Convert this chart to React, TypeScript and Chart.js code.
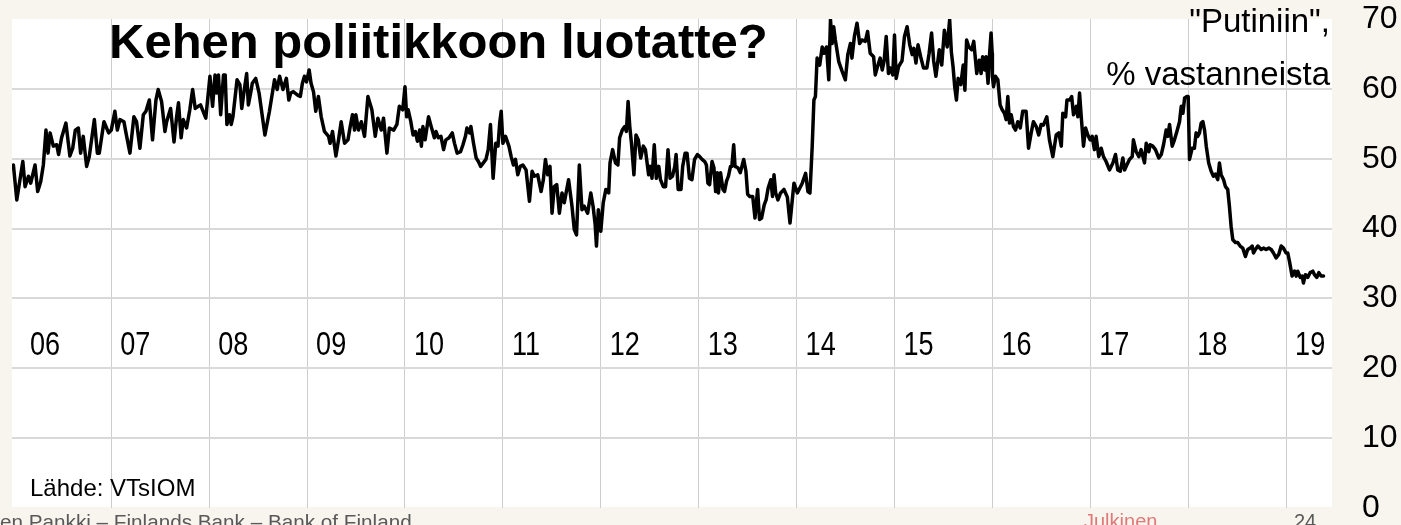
import React, { useEffect, useRef } from 'react';
import { Chart, registerables } from 'chart.js';

Chart.register(...registerables);

// Survey years and their axis labels
const years = [2006, 2007, 2008, 2009, 2010, 2011, 2012, 2013, 2014, 2015, 2016, 2017, 2018, 2019];
const yearLabels = ['06', '07', '08', '09', '10', '11', '12', '13', '14', '15', '16', '17', '18', '19'];
const gridYears = [2007, 2008, 2009, 2010, 2011, 2012, 2013, 2014, 2015, 2016, 2017, 2018, 2019];

// [week of year, % trusting Putin]
const s2006: [number, number][] = [[0,49.1],[1.8,44.1],[5,49.6],[6.2,46],[8,47.5],[9.2,46.5],[11.5,49.1],[12.9,45.3],[14.5,46.7],[15.9,49.1],[17.3,54.1],[18.4,50.8],[19.5,53.7],[21.2,51.8],[23,52],[24,50.6],[25.6,53],[27.9,55.1],[30,50.4],[31.5,51.5],[32.9,54.1],[34.5,54.4],[35.7,50.8],[37.1,53.2],[38.9,48.9],[40.3,50.3],[43,55.6],[44.6,50.8],[45.6,50.8],[48.1,55.3],[50.6,53.7]];
const s2007: [number, number][] = [[0,54.1],[1.9,56.8],[3.2,54.1],[4.6,55.6],[6.7,55.3],[7.8,53.7],[9.9,50.8],[12,56],[13.4,55.3],[15.2,51.5],[17,56.3],[18.4,56.8],[20.2,58.4],[21.9,52.7],[23.7,58.4],[24.9,59.9],[26.7,58.2],[28.5,53.9],[29.4,55.3],[31.5,57.2],[33.3,52.4],[34.7,56],[35.7,58],[37.1,53],[38.2,55.6],[40,54.4],[41.7,57],[43.2,59.9],[44.6,57.2],[46.2,57.5],[47.4,57.7],[50.2,55.8]];
const s2008: [number, number][] = [[0.4,61.8],[1.8,57.5],[3.1,62],[4,59.4],[4.9,62],[6.1,56.3],[7.6,62],[8.5,62],[9.4,54.9],[10.8,56.3],[11.7,54.9],[12.6,56],[14.8,61.3],[16.3,60.6],[17.3,57.2],[18.4,59.4],[19.9,62.2],[20.8,57.7],[22,59.4],[22.9,60.8],[24.7,61.5],[26.5,59.4],[29.6,53.4],[32,56.8],[34.7,61.3],[36.1,59.9],[37.4,61.8],[39.2,59.9],[41,61.5],[42.3,58.4],[43.3,59.4],[44.6,59.6],[47,59.1],[48.4,58.9],[49.5,60.8],[50.6,61.8],[51.7,61]];
const s2009: [number, number][] = [[1.1,62.7],[2.1,60.8],[3.4,59.6],[4.6,56.8],[6,58.9],[7.5,56],[9.2,53.9],[11.4,53.2],[12.2,52.2],[13.5,53.9],[15.3,50.4],[16.7,52.7],[18.1,55.3],[19.9,52.2],[21.7,52.7],[22.9,54.6],[24.1,56.3],[25.2,54.1],[25.9,56.3],[27.3,54.1],[28.8,55.3],[30.5,53.2],[32.3,58.9],[34.4,57],[36.2,53.2],[37.6,55.8],[39.4,54.1],[40.6,55.8],[42.4,50.8],[43.7,54.4],[46,54.1],[47.7,54.9],[49,57.5],[50.8,57]];
const s2010: [number, number][] = [[0,60.3],[0.9,56],[1.7,57],[3.1,55.3],[4.3,53.4],[5.5,53.9],[6.6,52.5],[7.8,54.1],[8.7,51.8],[9.5,54.6],[10.7,52.7],[12.5,56],[13.9,54.6],[15.6,53],[16.5,53.9],[17.7,53],[19.1,53.2],[20.5,51.3],[21.7,52.7],[23.4,53],[25.1,53.7],[26.3,52.2],[27.7,50.8],[29.5,51],[30.8,52],[32.1,53.2],[32.9,54.4],[34.3,53.7],[35,54.6],[36.4,52.2],[37.8,50.1],[39,49.6],[40.2,48.9],[41.6,49.4],[43,49.9],[44.2,51.3],[45.4,54.9],[46.8,47.2],[48.2,52.2],[49.4,51.8],[50.3,55.1],[51.1,56.8]];
const s2011: [number, number][] = [[0,52.2],[1.4,53.2],[3.2,51.8],[4.4,50.3],[5.6,49.1],[6.7,49.9],[7.9,47.7],[9.2,48.9],[10.6,49.1],[12.3,48.4],[14.1,43.9],[15.5,48.2],[16.7,47.5],[18.5,47.7],[20.3,45.3],[21.5,47],[22.6,49.9],[23.8,47.7],[25,48.9],[26.1,42.2],[27.3,46],[28.6,46.3],[30,42.2],[31.4,45.1],[32.6,43.7],[33.5,45],[34.9,47],[36.7,43.2],[37.9,39.9],[39.1,39.1],[40.6,49.1],[42,42.7],[43.2,43.2],[45,42.2],[46.7,45.1],[47.9,43.2],[49,40.6],[49.7,37.5],[50.7,42.7]];
const s2012: [number, number][] = [[0,39.6],[1.3,43.7],[2.7,45.6],[4.2,45.1],[4.9,49.4],[6.3,51.3],[7.8,49.4],[9.1,49.1],[10,53],[11.4,54.1],[12.7,54.6],[13.6,53.9],[14.5,58.2],[15.4,54.6],[16.3,52.2],[17.6,47.7],[18.7,53.4],[19.9,52.7],[21.2,50.1],[22.6,51.8],[23.7,51.3],[25.4,47.7],[26.3,48.9],[27.2,47.2],[28.4,52],[29.5,47.2],[30.8,48.9],[31.7,47],[33.2,46],[34.4,46],[35.7,51.3],[36.8,47.2],[38.1,47.5],[39.3,48.9],[40,50.6],[41.1,45.6],[42.6,45.6],[43.5,48.9],[44.8,50.8],[45.8,50.8],[47.1,47.2],[48.4,47],[49.8,49.9],[51.3,50.6]];
const s2013: [number, number][] = [[0.5,50.3],[1.8,49.9],[3.2,49.6],[4.1,49.1],[4.9,46.5],[5.8,46.3],[7.1,49.6],[8.1,48.7],[9,45.3],[9.9,48],[10.5,45.1],[11.6,48],[12.9,45.6],[13.7,45.3],[14.8,46.8],[15.8,47.5],[16.9,48.9],[17.6,48.9],[18.6,52],[19.3,48.9],[20.8,48.7],[22.1,48],[23.9,49.9],[25.1,48.2],[26,44.9],[27.1,44.6],[28.7,44.6],[29.9,41.5],[31.3,45.6],[32.3,41.3],[33.4,41.5],[34.8,43.4],[35.8,44.1],[36.9,45.8],[38.3,47],[39.2,44.6],[40,47.7],[40.9,45.1],[42.1,44.1],[43.5,45.1],[45.3,45.6],[47.1,44.5],[48.5,40.8],[50.6,46.5]];
const s2014: [number, number][] = [[0.4,45.1],[3,46.5],[4.8,47.9],[6,45.3],[7.1,45.1],[8.3,51.8],[9.2,58.4],[10,58.9],[10.9,64.4],[12.3,63.4],[13.6,66],[14.5,65.1],[15.9,66],[17.1,61.3],[18,69.9],[18.9,66.5],[19.7,68.9],[20.6,67],[22.4,63.9],[24.2,62.5],[25.9,61.3],[27.2,64.9],[28.6,66.5],[29.4,64.4],[30.7,67.5],[32.1,69.4],[33.5,66.5],[34.7,67],[36.5,66.8],[37.7,68.2],[39.1,65.1],[40.9,64.6],[41.8,62],[43,63.2],[44.4,64.4],[45.5,62.7],[46.5,64],[47.6,67.5],[48.8,62.2],[49.7,63],[51.1,62]];
const s2015: [number, number][] = [[0,67.7],[0.9,61.5],[2.2,63.2],[4,64],[5.3,67.5],[6.7,68.9],[8.1,66.3],[9.4,64.9],[10.3,65.8],[11.4,63.7],[12.5,66.3],[13.9,64.6],[15.4,63],[17.2,63],[18.4,65.1],[19.7,68],[20.8,64],[22,61.8],[23.8,65.6],[25.1,63.4],[26.5,68.4],[28,66],[29.3,69.9],[30.2,65.3],[31.1,63.2],[32,60.3],[32.9,58.4],[33.8,61.5],[35.2,60.6],[36.5,63.4],[37.4,59.8],[38.3,67],[39.5,66],[41,65.6],[42.1,66.8],[43.7,62.2],[45,64.1],[46,62.2],[46.8,64.6],[47.9,62.7],[48.6,64.6],[49.7,60.8],[50.4,64.6],[51.3,68],[51.9,65.1]];
const s2016: [number, number][] = [[0,61.8],[0.6,60.3],[1.6,61.8],[2.9,61.3],[4.1,57.7],[5.2,57],[6.4,56.5],[7.3,55.6],[8.2,58.9],[9.1,55.1],[10,56.3],[11.2,54.6],[12.3,54.1],[13.5,55.3],[14.8,54.4],[16.1,56.8],[17.9,56.8],[19.2,51.5],[20.6,53.7],[21.8,55.3],[23.3,54.6],[24.6,53.4],[25.9,54.9],[27.1,54.8],[28.9,56],[30.3,52.7],[32.1,50.3],[33.9,53.4],[35.3,53.7],[36.6,51.8],[37.4,56.5],[38.9,56],[39.6,58.4],[41,58.4],[42.1,58.9],[43.1,56.3],[44.6,57.5],[45.4,56],[46.3,59.4],[47.2,56],[48.4,51.8],[49.5,54.4],[50.7,53.4],[51.9,52.7]];
const s2017: [number, number][] = [[1,53.2],[2.2,51.3],[3.1,53.2],[4.5,50.3],[5.8,51.5],[7,50.3],[8.4,49.6],[10.2,48.4],[12,49.4],[13.4,50.6],[14.6,48.4],[15.9,48.2],[17.3,50.1],[18.2,48.4],[19.4,49.1],[20.8,49.9],[22.3,50.3],[22.9,52.7],[24.4,51],[25.8,50.3],[27,51.3],[28.8,49.4],[29.7,52.2],[31.1,51],[31.8,52],[33.2,51.8],[34.6,51.3],[36.4,50.1],[37.7,50.6],[38.9,52],[40.3,54.1],[41.2,53.2],[42.1,54.9],[43.5,51.8],[44.7,52.7],[46,53.9],[47.4,55.3],[48.3,57.5],[49.2,56.5],[50.1,58.7],[51.3,58.9]];
const s2018: [number, number][] = [[0,58.9],[0.7,49.9],[2.1,51.5],[3.3,51.5],[4.2,53.7],[5.1,53.2],[6,53.7],[6.9,55.1],[7.8,55.3],[8.7,54.1],[9.6,51.8],[10.9,49.4],[12.2,48.2],[13.4,47.5],[14.5,47.8],[15.7,47],[16.6,49.4],[17.5,47.7],[18.8,47],[19.8,46],[21,45.6],[21.9,43.2],[22.8,40.3],[23.7,38.4],[25.1,38],[26.3,38],[27.6,37.5],[29,37.2],[30.4,36],[31.6,37],[32.9,37.2],[34,37.5],[34.7,36.5],[35.7,37],[37,37.5],[38.8,37],[40,37.2],[41.4,37],[42.8,37.2],[44.1,37],[45.3,36.5],[46.7,35.8],[48.1,36.3],[49.4,37.5],[50.6,37.2]];
const s2019: [number, number][] = [[0,36.5],[0.9,36.5],[1.8,35.3],[3.2,33.2],[4.5,33.9],[5.4,33.2],[6.2,33.9],[7.5,33],[8.6,33.2],[9.2,32.2],[10.3,33.4],[11.5,33],[12.8,33.7],[14.2,33.9],[15.1,33.4],[16.3,33],[17.4,33.7],[18.6,33.2],[19.9,33.2]];

const series = [s2006, s2007, s2008, s2009, s2010, s2011, s2012, s2013, s2014, s2015, s2016, s2017, s2018, s2019];

const title = 'Kehen poliitikkoon luotatte?';
const unitLines = ['"Putiniin",', '% vastanneista'];
const source = 'Lähde: VTsIOM';
const footer = 'Suomen Pankki – Finlands Bank – Bank of Finland';
const footerCut = 'Suom';
const classification = 'Julkinen';
const pageNo = '24';

const SANS = "'Liberation Sans', Arial, sans-serif";

export default function App() {
  const ref = useRef<HTMLCanvasElement>(null);

  useEffect(() => {
    const canvas = ref.current;
    if (!canvas) return;
    const points = years.flatMap((yr, i) => series[i].map(([w, v]) => ({ x: yr + w / 52, y: v })));

    const deco = {
      id: 'deco',
      beforeDraw(c: any) {
        const { ctx, chartArea: a } = c;
        ctx.save();
        ctx.fillStyle = '#ffffff';
        ctx.fillRect(a.left, a.top, a.right - a.left, a.bottom - a.top - 1);
        ctx.restore();
      },
      afterDraw(c: any) {
        const { ctx, chartArea: a, scales } = c;
        const xs = scales.x;
        const ys = scales.y;
        ctx.save();
        ctx.fillStyle = '#000';
        ctx.textBaseline = 'alphabetic';

        // title
        ctx.font = `bold 49px ${SANS}`;
        ctx.textAlign = 'left';
        ctx.fillText(title, 109, 58);

        // unit note
        ctx.font = `33px ${SANS}`;
        ctx.textAlign = 'right';
        ctx.fillText(unitLines[0], a.right - 2, 32);
        ctx.fillText(unitLines[1], a.right - 2, 85);

        // year labels inside plot
        ctx.font = `33px monospace`;
        const wMono = ctx.measureText('00').width;
        ctx.font = `33px 'Liberation Sans Narrow', monospace`;
        const wNarrow = ctx.measureText('00').width;
        const hasNarrow = Math.abs(wMono - wNarrow) > 0.5;
        const labelY = ys.getPixelForValue(21.9);
        ctx.textAlign = 'left';
        years.forEach((yr, i) => {
          let x = xs.getPixelForValue(yr) + 9;
          if (i === 0) x = Math.max(x, a.left + 18);
          ctx.save();
          ctx.translate(x, labelY);
          if (hasNarrow) {
            ctx.font = `33px 'Liberation Sans Narrow', ${SANS}`;
          } else {
            ctx.font = `33px ${SANS}`;
            ctx.scale(0.82, 1);
          }
          ctx.fillText(yearLabels[i], 0, 0);
          ctx.restore();
        });

        // source
        ctx.font = `24px ${SANS}`;
        ctx.textAlign = 'left';
        ctx.fillText(source, 30, 496);

        // footer
        ctx.font = `20.7px ${SANS}`;
        ctx.fillStyle = '#595959';
        const cut = ctx.measureText(footerCut).width;
        ctx.fillText(footer, -cut, 529);
        ctx.font = `20px ${SANS}`;
        ctx.fillStyle = '#e07a7a';
        ctx.fillText(classification, 1084, 528);
        ctx.fillStyle = '#595959';
        ctx.fillText(pageNo, 1294, 528);
        ctx.restore();
      },
    };

    const chart = new Chart(canvas, {
      type: 'line',
      data: {
        datasets: [
          {
            data: points,
            borderColor: '#000000',
            borderWidth: 3.5,
            pointRadius: 0,
            tension: 0,
            borderJoinStyle: 'round',
            borderCapStyle: 'round',
            fill: false,
          },
        ],
      },
      options: {
        animation: false,
        responsive: false,
        maintainAspectRatio: false,
        layout: { padding: { left: 12, top: 19, right: 0, bottom: 17 } },
        plugins: { legend: { display: false }, tooltip: { enabled: false } },
        scales: {
          x: {
            type: 'linear',
            min: 2005.9857,
            max: 2019.469,
            afterBuildTicks: (s: any) => {
              s.ticks = gridYears.map((v) => ({ value: v }));
            },
            afterFit: (s: any) => {
              s.height = 0;
              s.paddingLeft = 0;
              s.paddingRight = 0;
              s.paddingTop = 0;
              s.paddingBottom = 0;
            },
            ticks: { display: false },
            grid: { color: '#cdcdcd', lineWidth: 1, drawTicks: false },
            border: { display: false },
          },
          y: {
            position: 'right',
            min: 0,
            max: 70,
            afterFit: (s: any) => {
              s.width = 69;
              s.paddingTop = 0;
              s.paddingBottom = 0;
              s.paddingLeft = 0;
              s.paddingRight = 0;
            },
            ticks: {
              stepSize: 10,
              color: '#000',
              padding: 30,
              font: { family: SANS, size: 32 },
            },
            grid: {
              color: (ctx: any) =>
                ctx.tick && (ctx.tick.value === 0 || ctx.tick.value === 70) ? 'rgba(0,0,0,0)' : '#d9d9d9',
              lineWidth: 2,
              drawTicks: false,
            },
            border: { display: false },
          },
        },
      },
      plugins: [deco],
    } as any);

    return () => chart.destroy();
  }, []);

  return (
    <div style={{ position: 'absolute', left: 0, top: 0, width: 1401, height: 525, background: '#f8f4ee' }}>
      <canvas ref={ref} width={1401} height={525} style={{ display: 'block' }} />
    </div>
  );
}
